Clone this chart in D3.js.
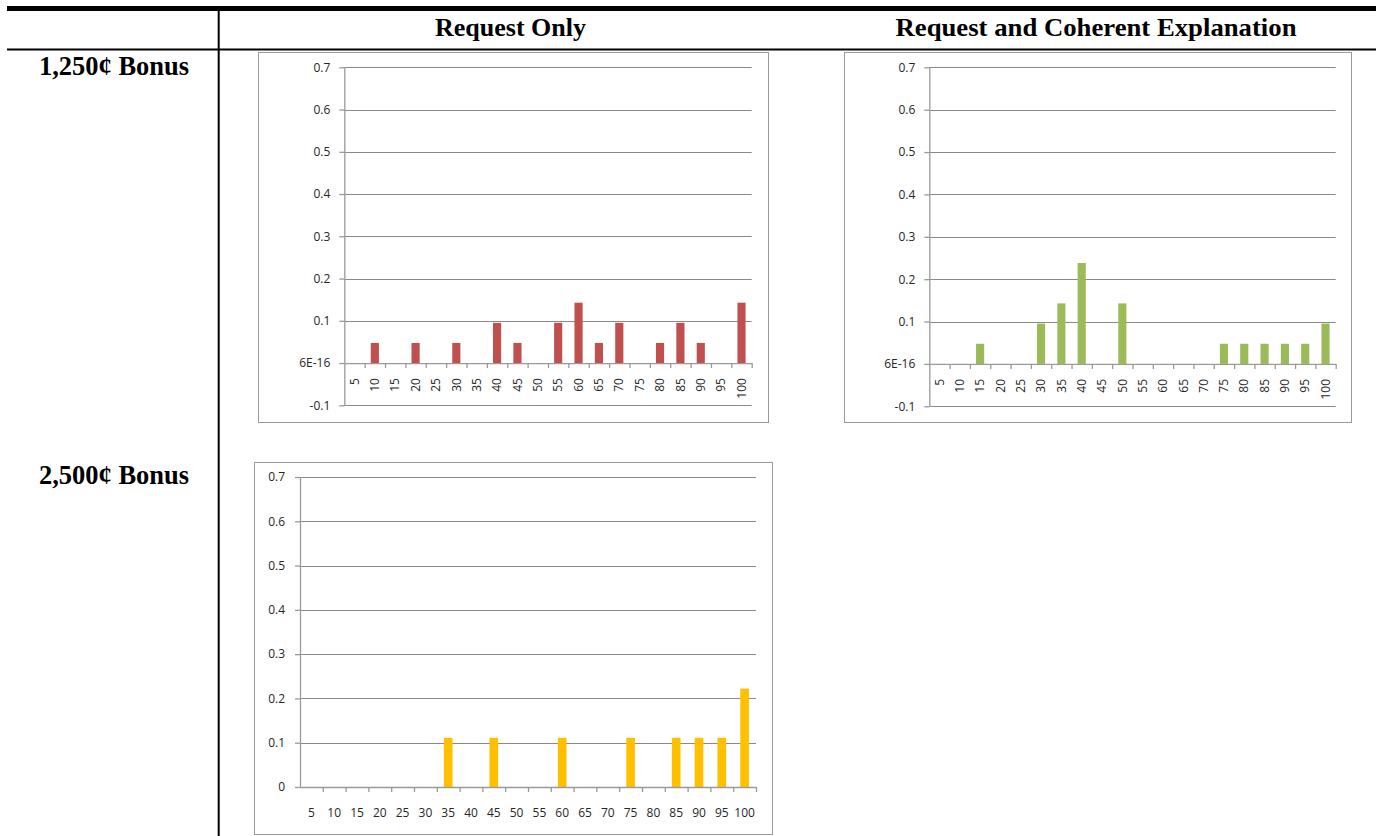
<!DOCTYPE html>
<html>
<head>
<meta charset="utf-8">
<script src="https://cdn.jsdelivr.net/npm/d3@7"></script>
<style>
  body { margin: 0; background: #fff; }
  svg { display: block; }
  .tick text { font-family: "Open Sans", sans-serif; font-size: 12px; fill: #262626; }
  .hdr { font-family: "Liberation Serif", "Times New Roman", serif; font-weight: bold; fill: #000; }
</style>
</head>
<body>
<svg width="1376" height="836"></svg>
<script>
  var categories = [5, 10, 15, 20, 25, 30, 35, 40, 45, 50, 55, 60, 65, 70, 75, 80, 85, 90, 95, 100];

  // proporciones
  var requestOnly1250 = [0, 0.0476, 0, 0.0476, 0, 0.0476, 0, 0.0952, 0.0476, 0, 0.0952, 0.1429, 0.0476, 0.0952, 0, 0.0476, 0.0952, 0.0476, 0, 0.1429];
  var explanation1250 = [0, 0, 0.0476, 0, 0, 0.0952, 0.1429, 0.2381, 0, 0.1429, 0, 0, 0, 0, 0.0476, 0.0476, 0.0476, 0.0476, 0.0476, 0.0952];
  var requestOnly2500 = [0, 0, 0, 0, 0, 0, 0.1111, 0, 0.1111, 0, 0, 0.1111, 0, 0, 0.1111, 0, 0.1111, 0.1111, 0.1111, 0.2222];

  var yTicksNeg = [-0.1, 0, 0.1, 0.2, 0.3, 0.4, 0.5, 0.6, 0.7];
  var yLabelsNeg = ["-0.1", "6E-16", "0.1", "0.2", "0.3", "0.4", "0.5", "0.6", "0.7"];
  var yTicksPos = [0, 0.1, 0.2, 0.3, 0.4, 0.5, 0.6, 0.7];
  var yLabelsPos = ["0", "0.1", "0.2", "0.3", "0.4", "0.5", "0.6", "0.7"];

  var colLabels = ["Request Only", "Request and Coherent Explanation"];
  var rowLabels = ["1,250¢ Bonus", "2,500¢ Bonus"];

  var svg = d3.select("svg");

  // tabla: lineas
  svg.append("rect").attr("x", 7).attr("y", 6).attr("width", 1369).attr("height", 5).attr("fill", "#000");
  svg.append("rect").attr("x", 7).attr("y", 48.5).attr("width", 1369).attr("height", 2).attr("fill", "#000");
  svg.append("rect").attr("x", 217.7).attr("y", 11).attr("width", 2).attr("height", 825).attr("fill", "#000");

  // encabezados
  var hdrs = [
    {t: colLabels[0], x: 510.5, y: 36, size: 26, len: 151},
    {t: colLabels[1], x: 1096, y: 36, size: 26, len: 401},
    {t: rowLabels[0], x: 114, y: 75, size: 27, len: 150},
    {t: rowLabels[1], x: 114, y: 484.3, size: 27, len: 150}
  ];
  svg.selectAll("text.hdr")
    .data(hdrs)
    .enter().append("text")
      .attr("class", "hdr")
      .attr("x", function(d) { return d.x; })
      .attr("y", function(d) { return d.y; })
      .attr("text-anchor", "middle")
      .attr("font-size", function(d) { return d.size; })
      .attr("textLength", function(d) { return d.len; })
      .attr("lengthAdjust", "spacingAndGlyphs")
      .text(function(d) { return d.t; });

  function drawChart(c) {
    var g = svg.append("g");

    g.append("rect")
      .attr("x", c.box[0] + 0.5).attr("y", c.box[1] + 0.5)
      .attr("width", c.box[2] - c.box[0]).attr("height", c.box[3] - c.box[1])
      .attr("fill", "#fff").attr("stroke", "#9a9a9a");

    var y = d3.scaleLinear().domain([c.ticks[0], 0.7]).range([c.bottom, c.top]);
    var x = d3.scaleBand().domain(categories).range([c.left, c.right])
      .paddingInner(c.pad).paddingOuter(c.pad / 2);
    var xs = d3.scaleLinear().domain([0, categories.length]).range([c.left, c.right]);

    // lineas de cuadricula
    g.selectAll(".grid")
      .data(c.ticks.filter(function(d) { return d !== 0; }))
      .enter().append("line")
        .attr("x1", c.left).attr("x2", c.right)
        .attr("y1", function(d) { return Math.round(y(d)) + 0.5; })
        .attr("y2", function(d) { return Math.round(y(d)) + 0.5; })
        .attr("stroke", "#8a8a8a");

    g.selectAll(".bar")
      .data(c.values)
      .enter().append("rect")
        .attr("x", function(d, i) { return x(categories[i]); })
        .attr("y", function(d) { return y(d); })
        .attr("width", x.bandwidth())
        .attr("height", function(d) { return y(0) - y(d); })
        .attr("fill", c.color);

    // eje y
    var ya = g.append("g")
      .attr("transform", "translate(" + c.left + ",0)")
      .call(d3.axisLeft(y)
        .tickValues(c.ticks)
        .tickFormat(function(d, i) { return c.labels[i]; })
        .tickSize(5)
        .tickSizeOuter(0)
        .tickPadding(c.ypad));
    ya.selectAll("path, line").attr("stroke", "#9a9a9a").attr("stroke-width", 1.3);

    // eje x (marcas entre categorias)
    var xa = g.append("g")
      .attr("transform", "translate(0," + y(0) + ")")
      .call(d3.axisBottom(xs)
        .tickValues(d3.range(1, categories.length + 1))
        .tickFormat("")
        .tickSize(5)
        .tickSizeOuter(0));
    xa.selectAll("path, line").attr("stroke", "#9a9a9a").attr("stroke-width", 1.3);

    var xl = g.append("g")
      .attr("transform", "translate(0," + y(0) + ")")
      .call(d3.axisBottom(x).tickSize(0));
    xl.select(".domain").remove();
    if (c.rotate) {
      xl.selectAll("text")
        .attr("transform", "rotate(-90)")
        .attr("text-anchor", "end")
        .attr("x", -15)
        .attr("y", 0)
        .attr("dy", "0.35em");
    } else {
      xl.selectAll("text")
        .attr("y", 26)
        .attr("dy", "0.35em");
    }
  }

  drawChart({
    box: [258, 52, 768, 422], left: 344.3, right: 751.7, top: 67.3, bottom: 405.3,
    values: requestOnly1250, color: "#C0504D", ticks: yTicksNeg, labels: yLabelsNeg,
    pad: 0.6, ypad: 9, rotate: true
  });
  drawChart({
    box: [844, 52, 1351, 422], left: 929.3, right: 1335.7, top: 67.3, bottom: 406.3,
    values: explanation1250, color: "#9BBB59", ticks: yTicksNeg, labels: yLabelsNeg,
    pad: 0.6, ypad: 9, rotate: true
  });
  drawChart({
    box: [254, 462, 772, 834], left: 300, right: 756, top: 477, bottom: 787,
    values: requestOnly2500, color: "#FFC000", ticks: yTicksPos, labels: yLabelsPos,
    pad: 0.62, ypad: 10, rotate: false
  });
</script>
</body>
</html>
